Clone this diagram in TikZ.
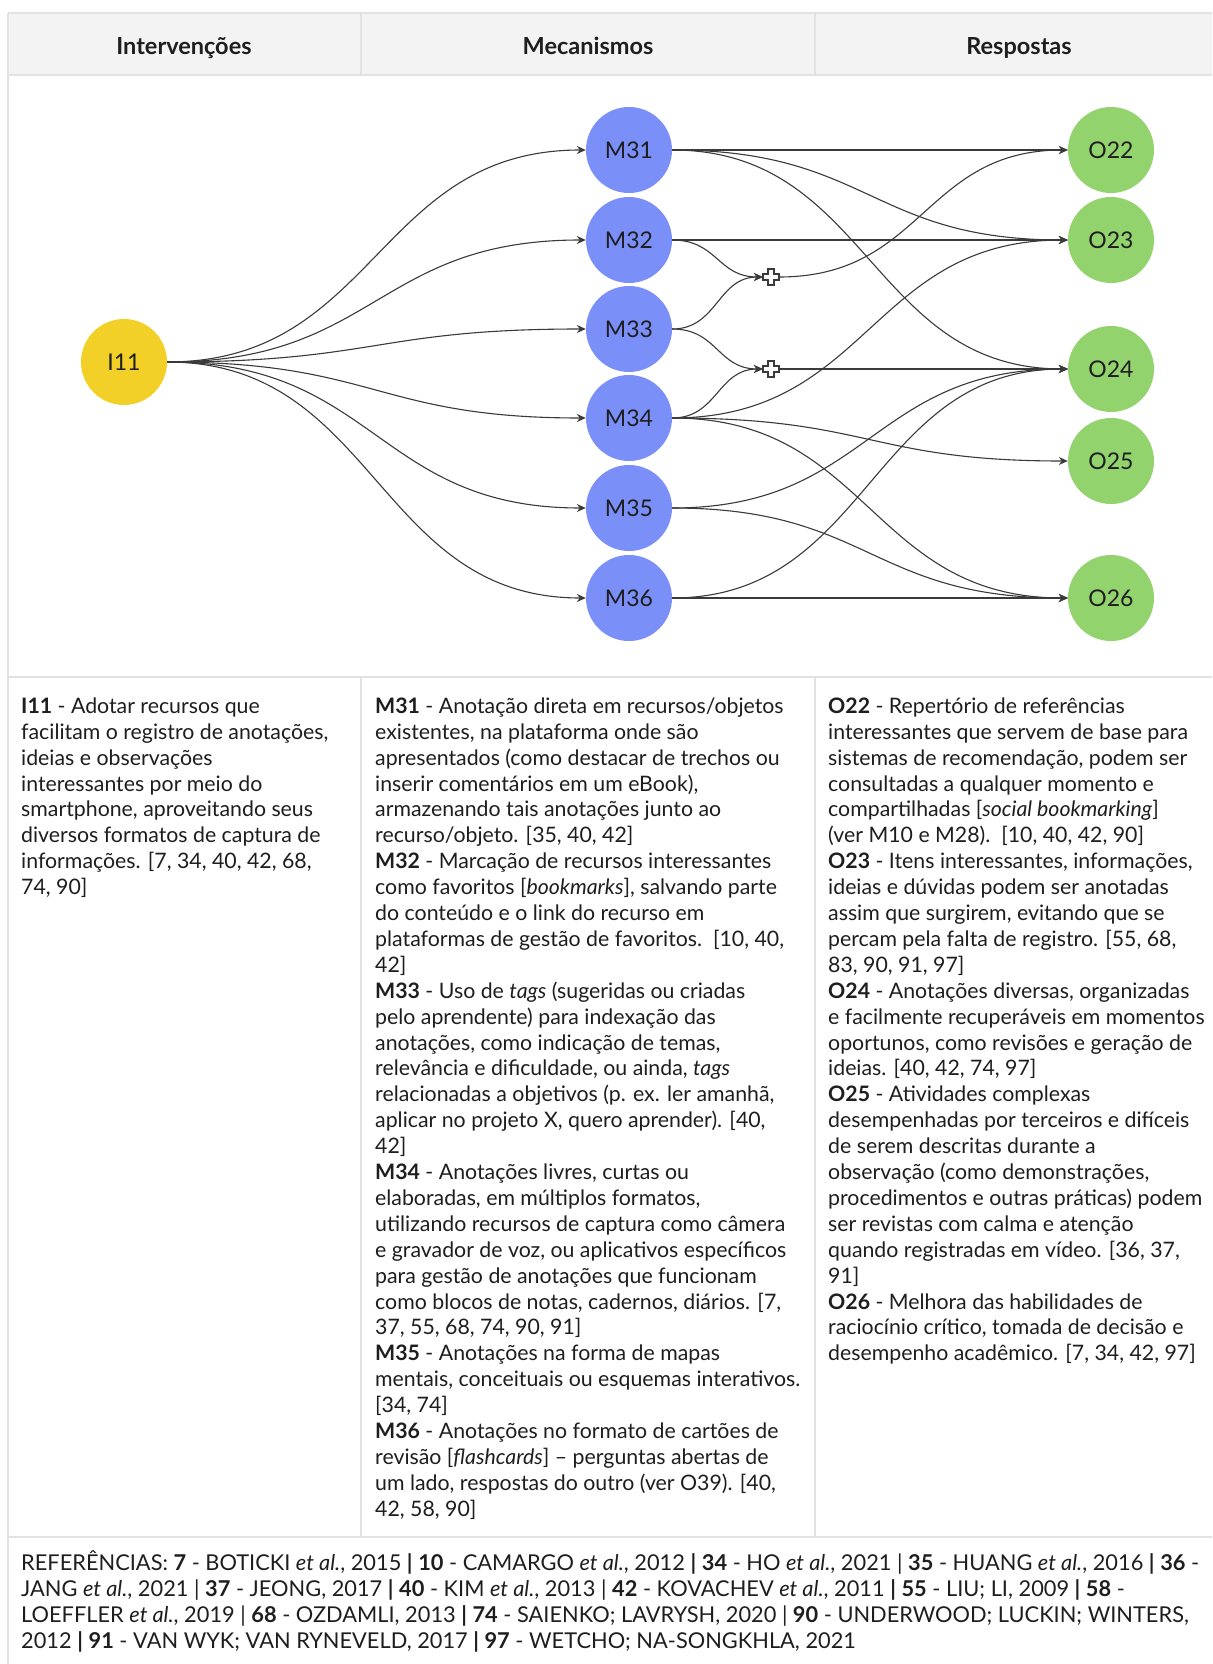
\documentclass[tikz,border=0pt]{standalone}
\usepackage{fontspec}
\setmainfont{Lato}
\usetikzlibrary{arrows.meta,calc}
\definecolor{hdr}{HTML}{F3F3F3}
\definecolor{grid}{HTML}{E2E2E2}
\definecolor{ink}{HTML}{1E1E1E}
\definecolor{edge}{HTML}{3A3A3A}
\definecolor{yel}{HTML}{F2D027}
\definecolor{blu}{HTML}{7B8FF8}
\definecolor{grn}{HTML}{92D36E}
\tikzset{
  bodytext/.style={anchor=north west, inner sep=0pt, align=left, text=ink, font=\fontsize{21.3}{25.9}\selectfont},
  reftext/.style={anchor=north west, inner sep=0pt, align=left, text=ink, font=\fontsize{21.8}{26.2}\selectfont},
  hdrtext/.style={anchor=base, inner sep=0pt, text=ink, font=\fontsize{23.5}{27}\selectfont\bfseries},
  circ/.style={circle, minimum size=86pt, inner sep=0pt, text=ink, font=\fontsize{23}{27}\selectfont},
  inode/.style={circ, fill=yel},
  mnode/.style={circ, fill=blu},
  onode/.style={circ, fill=grn},
  junc/.style={minimum size=16pt, inner sep=0pt},
  plusline/.style={draw=edge, fill=white, line width=1.1pt, line join=miter},
  gridline/.style={draw=grid, line width=2.5pt},
  curv/.style={to path={let \p1=(\tikztostart), \p2=(\tikztotarget), \n1={0.5*(\x2-\x1)} in .. controls +(\n1,0pt) and +(-\n1,0pt) .. (\tikztotarget) \tikztonodes}},
  link/.style={draw=edge, line width=1.1pt, -{Stealth[length=9pt,width=8pt,inset=3pt]}, curv},
}
\begin{document}
\begin{tikzpicture}[x=1pt,y=-1pt]
\useasboundingbox (0,0) rectangle (1212,1664);
\begin{scope}
\clip (0,0) rectangle (1212,1664);
\fill[white] (0,0) rectangle (1212,1664);
\fill[hdr] (8,13) rectangle (1230,75);
\draw[gridline] (8,13) -- (1230,13);
\draw[gridline] (8,75) -- (1230,75);
\draw[gridline] (8,677) -- (1230,677);
\draw[gridline] (8,1537) -- (1230,1537);
\draw[gridline] (8,13) -- (8,1670);
\draw[gridline] (361,13) -- (361,75);
\draw[gridline] (815,13) -- (815,75);
\draw[gridline] (361,677) -- (361,1537);
\draw[gridline] (815,677) -- (815,1537);

\node[hdrtext] (h1) at (184,55) {Intervenções};
\node[hdrtext] (h2) at (588,55) {Mecanismos};
\node[hdrtext] (h3) at (1019,55) {Respostas};

\node[inode] (I11) at (124,362) {I11};
\node[mnode] (M31) at (629,150) {M31};
\node[mnode] (M32) at (629,240) {M32};
\node[mnode] (M33) at (629,329) {M33};
\node[mnode] (M34) at (629,418) {M34};
\node[mnode] (M35) at (629,508) {M35};
\node[mnode] (M36) at (629,598) {M36};
\node[onode] (O22) at (1111,150) {O22};
\node[onode] (O23) at (1111,240) {O23};
\node[onode] (O24) at (1111,369) {O24};
\node[onode] (O25) at (1111,461) {O25};
\node[onode] (O26) at (1111,598) {O26};
\node[junc] (P1) at (771,277) {};
\node[junc] (P2) at (771,369) {};

\foreach \m in {M31,M32,M33,M34,M35,M36} {\draw[link] (I11.east) to (\m.west);}
\draw[link] (M31.east) to (O22.west);
\draw[link] (M31.east) to (O23.west);
\draw[link] (M31.east) to (O24.west);
\draw[link] (M32.east) to (O23.west);
\draw[link] (M32.east) to (P1.west);
\draw[link] (M33.east) to (P1.west);
\draw[link] (M33.east) to (P2.west);
\draw[link] (M34.east) to (P2.west);
\draw[link] (M34.east) to (O23.west);
\draw[link] (M34.east) to (O25.west);
\draw[link] (M34.east) to (O26.west);
\draw[link] (M35.east) to (O24.west);
\draw[link] (M35.east) to (O26.west);
\draw[link] (M36.east) to (O24.west);
\draw[link] (M36.east) to (O26.west);
\draw[link] (P1.east) to (O22.west);
\draw[link] (P2.east) to (O24.west);

\foreach \p in {P1,P2} {
\path[plusline] (\p.center) ++(-3,-8) -- ++(6,0) -- ++(0,5) -- ++(5,0) -- ++(0,6) -- ++(-5,0) -- ++(0,5) -- ++(-6,0) -- ++(0,-5) -- ++(-5,0) -- ++(0,-6) -- ++(5,0) -- cycle;
}

\node[bodytext] (tI) at (21,695) {\strut\textbf{I11} - Adotar recursos que\\
facilitam o registro de anotações,\\
ideias e observações\\
interessantes por meio do\\
smartphone, aproveitando seus\\
diversos formatos de captura de\\
informações. [7, 34, 40, 42, 68,\\
74, 90]};

\node[bodytext] (tM) at (375,695) {\strut\textbf{M31} - Anotação direta em recursos/objetos\\
existentes, na plataforma onde são\\
apresentados (como destacar de trechos ou\\
inserir comentários em um eBook),\\
armazenando tais anotações junto ao\\
recurso/objeto. [35, 40, 42]\\
\textbf{M32} - Marcação de recursos interessantes\\
como favoritos [\textit{bookmarks}], salvando parte\\
do conteúdo e o link do recurso em\\
plataformas de gestão de favoritos.\ \ [10, 40,\\
42]\\
\textbf{M33} - Uso de \textit{tags} (sugeridas ou criadas\\
pelo aprendente) para indexação das\\
anotações, como indicação de temas,\\
relevância e dificuldade, ou ainda, \textit{tags}\\
relacionadas a objetivos (p. ex. ler amanhã,\\
aplicar no projeto X, quero aprender). [40,\\
42]\\
\textbf{M34} - Anotações livres, curtas ou\\
elaboradas, em múltiplos formatos,\\
utilizando recursos de captura como câmera\\
e gravador de voz, ou aplicativos específicos\\
para gestão de anotações que funcionam\\
como blocos de notas, cadernos, diários. [7,\\
37, 55, 68, 74, 90, 91]\\
\textbf{M35} - Anotações na forma de mapas\\
mentais, conceituais ou esquemas interativos.\\
{}[34, 74]\\
\textbf{M36} - Anotações no formato de cartões de\\
revisão [\textit{flashcards}] – perguntas abertas de\\
um lado, respostas do outro (ver O39). [40,\\
42, 58, 90]};

\node[bodytext] (tO) at (828,695) {\strut\textbf{O22} - Repertório de referências\\
interessantes que servem de base para\\
sistemas de recomendação, podem ser\\
consultadas a qualquer momento e\\
compartilhadas [\textit{social bookmarking}]\\
(ver M10 e M28).\ \ [10, 40, 42, 90]\\
\textbf{O23} - Itens interessantes, informações,\\
ideias e dúvidas podem ser anotadas\\
assim que surgirem, evitando que se\\
percam pela falta de registro. [55, 68,\\
83, 90, 91, 97]\\
\textbf{O24} - Anotações diversas, organizadas\\
e facilmente recuperáveis em momentos\\
oportunos, como revisões e geração de\\
ideias. [40, 42, 74, 97]\\
\textbf{O25} - Atividades complexas\\
desempenhadas por terceiros e difíceis\\
de serem descritas durante a\\
observação (como demonstrações,\\
procedimentos e outras práticas) podem\\
ser revistas com calma e atenção\\
quando registradas em vídeo. [36, 37,\\
91]\\
\textbf{O26} - Melhora das habilidades de\\
raciocínio crítico, tomada de decisão e\\
desempenho acadêmico. [7, 34, 42, 97]};

\node[reftext] (tR) at (21,1550) {\strut REFERÊNCIAS: \textbf{7} - BOTICKI \textit{et al.}, 2015 \textbf{|} \textbf{10} - CAMARGO \textit{et al.}, 2012 \textbf{|} \textbf{34} - HO \textit{et al.}, 2021 | \textbf{35} - HUANG \textit{et al.}, 2016 \textbf{|} \textbf{36} -\\
JANG \textit{et al.}, 2021 | \textbf{37} - JEONG, 2017 \textbf{|} \textbf{40} - KIM \textit{et al.}, 2013 | \textbf{42} - KOVACHEV \textit{et al.}, 2011 \textbf{|} \textbf{55} - LIU; LI, 2009 \textbf{|} \textbf{58} -\\
LOEFFLER \textit{et al.}, 2019 | \textbf{68} - OZDAMLI, 2013 \textbf{|} \textbf{74} - SAIENKO; LAVRYSH, 2020 | \textbf{90} - UNDERWOOD; LUCKIN; WINTERS,\\
2012 \textbf{|} \textbf{91} - VAN WYK; VAN RYNEVELD, 2017 \textbf{|} \textbf{97} - WETCHO; NA-SONGKHLA, 2021};
\end{scope}
\end{tikzpicture}
\end{document}
